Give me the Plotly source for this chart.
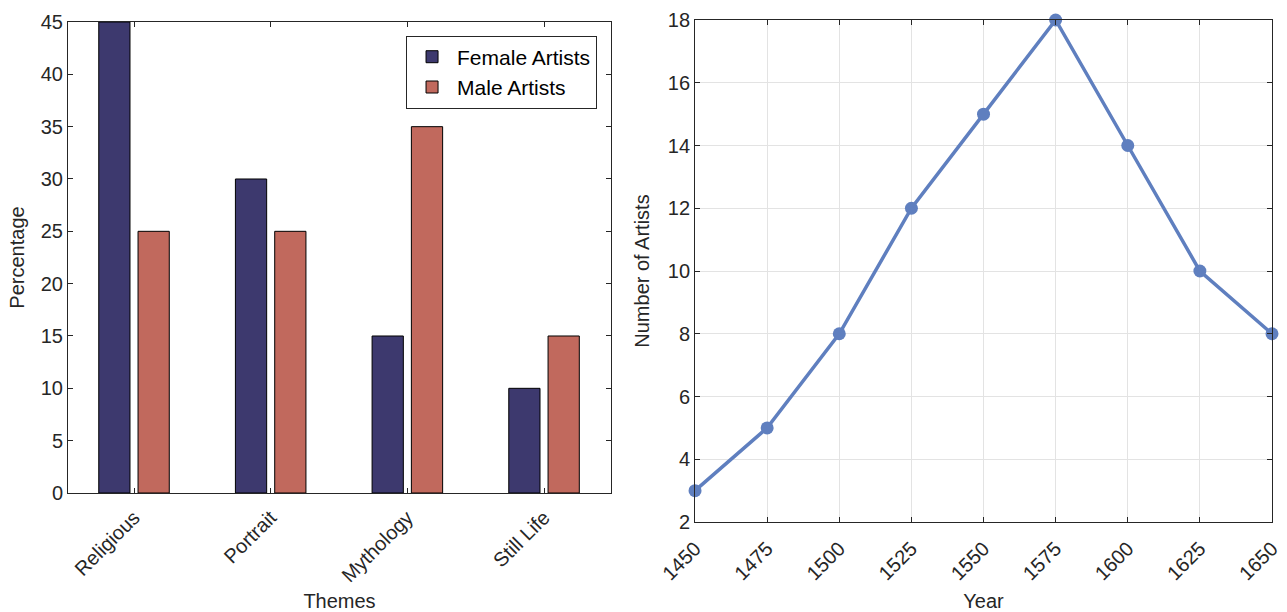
import plotly.graph_objects as go

themes = ["Religious", "Portrait", "Mythology", "Still Life"]
female_pct = [45, 30, 15, 10]
male_pct = [25, 25, 35, 15]

years = [1450, 1475, 1500, 1525, 1550, 1575, 1600, 1625, 1650]
num_artists = [3, 5, 8, 12, 15, 18, 14, 10, 8]

FONT = "Liberation Sans, Arial, Helvetica, sans-serif"
TXT = "#262626"
AX = "#262626"

fig = go.Figure()
fig.add_trace(go.Bar(x=themes, y=female_pct, name="Female Artists",
                     marker=dict(color="#3d396e", line=dict(color="black", width=1)),
                     xaxis="x", yaxis="y"))
fig.add_trace(go.Bar(x=themes, y=male_pct, name="Male Artists",
                     marker=dict(color="#c1695d", line=dict(color="black", width=1)),
                     xaxis="x", yaxis="y"))
fig.add_trace(go.Scatter(x=years, y=num_artists, mode="lines+markers",
                         line=dict(color="#5f7fbf", width=3.5),
                         marker=dict(size=13, color="#5f7fbf"),
                         showlegend=False, cliponaxis=False,
                         xaxis="x2", yaxis="y2"))

axis_common = dict(showline=True, mirror="allticks", linecolor=AX, linewidth=1,
                   ticks="inside", ticklen=5, tickcolor=AX, automargin=False,
                   tickfont=dict(family=FONT, size=20, color=TXT),
                   zeroline=False)
TFONT = dict(family=FONT, size=20, color=TXT)

fig.update_layout(
    width=1287, height=612, autosize=False,
    margin=dict(l=68, r=15, t=20, b=90),
    plot_bgcolor="white", paper_bgcolor="white",
    font=dict(family=FONT, size=20, color=TXT),
    barmode="group", bargap=0.425, bargroupgap=0.205,
    xaxis=dict(domain=[0, 0.451], tickangle=-45, showgrid=False,
               range=[-0.483, 3.49], ticklabelstandoff=4,
               title=dict(text="Themes", font=TFONT, standoff=12),
               **axis_common),
    yaxis=dict(domain=[0.0578, 0.996], range=[0, 45], dtick=5, showgrid=False,
               title=dict(text="Percentage", font=TFONT, standoff=10),
               **axis_common),
    xaxis2=dict(domain=[0.5208, 1], anchor="y2", range=[1450, 1650], dtick=25,
                tickangle=-45, showgrid=True, gridcolor="#e3e3e3",
                ticklabelstandoff=6,
                title=dict(text="Year", font=TFONT, standoff=12),
                **axis_common),
    yaxis2=dict(domain=[0, 1], anchor="x2", range=[2, 18], dtick=2,
                showgrid=True, gridcolor="#e3e3e3",
                title=dict(text="Number of Artists", font=TFONT, standoff=12),
                **axis_common),
    legend=dict(x=0.4394, y=0.969, xanchor="right", yanchor="top",
                bgcolor="white", bordercolor="#262626", borderwidth=1,
                font=dict(family=FONT, size=21, color="black"),
                tracegroupgap=0, itemwidth=40),
)

fig.write_html("out.html", config={"displayModeBar": False},
               post_script="document.body.style.margin='0px';document.body.style.overflow='hidden';")
